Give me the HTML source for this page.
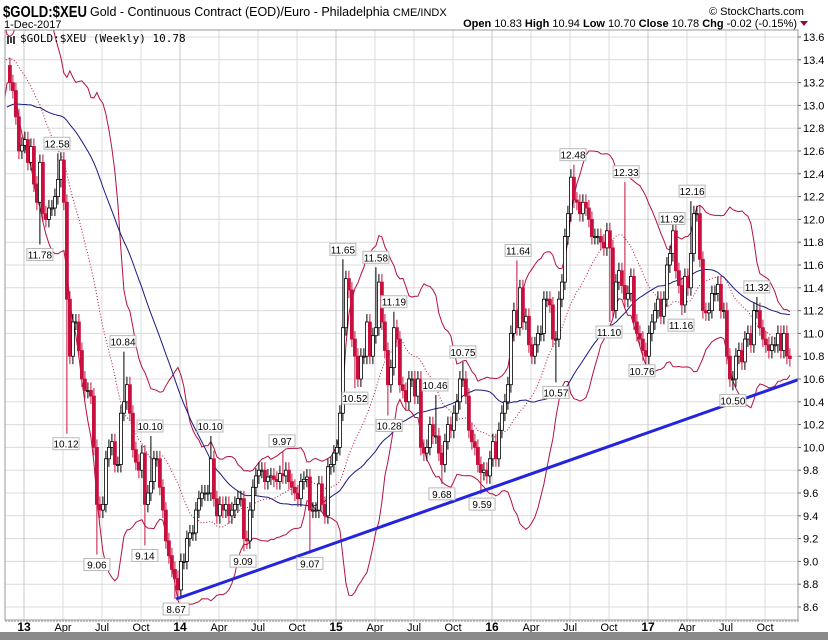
<!DOCTYPE html>
<html><head><meta charset="utf-8"><style>
html,body{margin:0;padding:0;background:#fff;}
svg{display:block;font-family:"Liberation Sans",sans-serif;}
</style></head><body>
<svg id="chart" width="828" height="640" viewBox="0 0 828 640" xmlns="http://www.w3.org/2000/svg">
<rect x="0" y="0" width="828" height="640" fill="#fff"/>
<text x="3" y="17" font-size="16" font-weight="bold" textLength="84" lengthAdjust="spacingAndGlyphs">$GOLD:$XEU</text>
<text x="90" y="16" font-size="12.5">Gold - Continuous Contract (EOD)/Euro - Philadelphia <tspan font-size="11">CME/INDX</tspan></text>
<text x="4" y="28" font-size="11">1-Dec-2017</text>
<text x="709" y="15" font-size="11">© StockCharts.com</text>
<text x="797" y="27" font-size="11" text-anchor="end"><tspan font-weight="bold">Open</tspan> 10.83 <tspan font-weight="bold">High</tspan> 10.94 <tspan font-weight="bold">Low</tspan> 10.70 <tspan font-weight="bold">Close</tspan> 10.78 <tspan font-weight="bold">Chg</tspan> -0.02 (-0.15%)</text>
<path d="M800 21 L808 21 L804 26 Z" fill="#8b1030"/>
<g id="grid"></g>
<g id="marks" clip-path="url(#clip)"></g>
<g id="labels"></g>
<rect x="5" y="30" width="793" height="590" fill="none" stroke="#999"/>
<text x="20" y="42" font-size="11" font-family="'DejaVu Sans Mono','Liberation Mono',monospace">$GOLD:$XEU (Weekly) 10.78</text>
<path d="M8 36 V44 M11 37 V43 M14 36 V44" stroke="#000" stroke-width="1.5"/>
<g id="axes"></g>
<rect x="0" y="632" width="828" height="8" fill="#8a8a8a"/>
<defs><clipPath id="clip"><rect x="5" y="30" width="793" height="590"/></clipPath></defs>
</svg>
<script>
// hidden warm-up weeks (2012) followed by visible weekly closes ending 1-Dec-2017
const preCloses = [12.55,12.6,12.7,12.65,12.8,12.75,12.6,12.7,12.85,12.7,12.6,12.75,12.8,12.7,12.65,12.6,12.7,12.8,12.75,12.7,12.6,12.7,12.75,12.8,12.7,12.65,12.7,12.8,12.75,12.7,
13.1,13.3,13.4,13.5,13.45,13.35,13.5,13.55,13.4,13.3,13.45,13.5,13.6,13.45,13.4,13.5,13.35,13.3,13.4,13.35];
const closes = [13.2,13.13,12.9,12.6,12.65,12.7,12.5,12.64,12.31,12.15,12.5,12.05,12.0,12.1,12.1,12.2,12.35,12.52,12.15,11.3,10.8,11.1,11.1,10.85,10.6,10.5,10.5,10.45,10.0,9.5,9.45,9.5,9.9,10.0,10.05,9.85,9.85,10.3,10.4,10.55,10.3,9.98,9.87,9.8,9.95,9.5,9.6,9.7,9.9,9.9,9.65,9.45,9.18,9.05,8.93,8.85,8.75,9.0,9.0,9.2,9.25,9.25,9.45,9.55,9.6,9.6,9.6,9.9,9.55,9.4,9.5,9.45,9.5,9.4,9.45,9.5,9.55,9.55,9.2,9.18,9.45,9.65,9.75,9.8,9.8,9.7,9.74,9.75,9.72,9.7,9.77,9.75,9.8,9.7,9.65,9.6,9.55,9.7,9.72,9.74,9.45,9.45,9.45,9.68,9.5,9.4,9.83,9.85,9.95,10.0,10.3,11.05,11.48,11.38,10.95,10.8,10.6,10.8,10.8,11.1,10.8,10.98,11.05,11.45,11.1,10.85,10.55,10.7,11.05,10.95,10.55,10.5,10.4,10.6,10.6,10.45,10.6,10.0,9.95,10.0,10.2,10.1,10.1,9.95,9.85,10.05,10.2,10.15,10.3,10.4,10.6,10.6,10.45,10.15,10.05,10.0,9.85,9.78,9.8,9.75,9.9,10.05,9.9,10.15,10.3,10.4,10.55,11.0,11.2,11.05,11.4,11.1,11.15,10.9,10.8,10.9,11.0,11.0,11.3,11.3,11.25,10.95,10.95,11.3,11.45,11.85,12.05,12.37,12.17,12.15,12.05,12.15,12.1,12.0,11.85,11.85,11.85,11.8,11.75,11.9,11.75,11.2,11.45,11.55,11.42,11.3,11.35,11.5,11.1,11.0,10.95,10.85,10.8,11.0,11.1,11.2,11.3,11.15,11.3,11.6,11.7,11.9,11.55,11.42,11.25,11.5,11.4,11.7,12.05,12.05,11.65,11.2,11.18,11.2,11.35,11.35,11.43,11.2,11.2,10.8,10.6,10.6,10.8,10.85,10.75,10.95,11.0,10.9,11.2,11.2,11.05,10.95,10.9,10.85,10.9,10.9,11.0,10.85,11.0,10.8,10.78];
const lastWeek = 255.3; // weeks since 1-Jan-2013 of the final candle
const priceTicks = [8.6,8.8,9.0,9.2,9.4,9.6,9.8,10.0,10.2,10.4,10.6,10.8,11.0,11.2,11.4,11.6,11.8,12.0,12.2,12.4,12.6,12.8,13.0,13.2,13.4,13.6];
const monthTickIdx = [0,3,6,9,12,15,18,21,24,27,30,33,36,39,42,45,48,51,54,57];
const monthTickText = ["13","Apr","Jul","Oct","14","Apr","Jul","Oct","15","Apr","Jul","Oct","16","Apr","Jul","Oct","17","Apr","Jul","Oct"];
const annWeeks = [11,5.3,14,33,42,62,24.3,40.3,50.7,73,86,95.3,106.3,117.3,123.3,110.3,121.7,137,146.3,139.3,152.7,164.7,177.3,183,200.7,195,206,216,222.7,219,244.3,236.3];
const annValues = [12.58,11.78,10.12,10.84,10.10,10.10,9.06,9.14,8.67,9.09,9.97,9.07,11.65,11.58,11.19,10.52,10.28,10.46,10.75,9.68,9.59,11.64,10.57,12.48,12.33,11.10,10.76,11.92,12.16,11.16,11.32,10.50];
const annDir = ["h","l","l","h","h","h","l","l","l","l","h","l","h","h","h","l","l","h","h","l","l","h","l","h","h","l","l","h","h","l","h","l"];
const trendWeeks = [50.7, 258.7];
const trendValues = [8.67, 10.6];

const NS="http://www.w3.org/2000/svg";
const X = w => 24 + w*3;
const Y = v => 37 + (13.6 - v)*114;
const M = m => 24 + m*13;
function mk(tag, attrs, parent){const e=document.createElementNS(NS,tag);for(const k in attrs)e.setAttribute(k,attrs[k]);parent.appendChild(e);return e;}
const grid=document.getElementById('grid'), marks=document.getElementById('marks'), labels=document.getElementById('labels'), axes=document.getElementById('axes');

priceTicks.forEach(v=>{
  const l=mk('line',{x1:5,x2:798,y1:Y(v),y2:Y(v),stroke:'#dcdcdc'},grid);
  
  
  const t=mk('text',{x:803,y:Y(v)+4,'font-size':11},axes);
  
  
  t.textContent=v.toFixed(1);
  mk('line',{x1:798,x2:801,y1:Y(v),y2:Y(v),stroke:'#666'},axes);
});
monthTickIdx.forEach((m,i)=>{
  const yr = m%12===0;
  const l=mk('line',{x1:M(m),x2:M(m),y1:30,y2:620,stroke:yr?'#c8c8c8':'#dcdcdc'},grid);
  
  
  const t=mk('text',{x:M(m),y:631,'font-size':yr?12:11,'font-weight':yr?'bold':'normal','text-anchor':'middle'},axes);
  
  
  t.textContent=monthTickText[i];
});
for(let w=-6; w<=258; w++){ mk('line',{x1:X(w),x2:X(w),y1:620,y2:622,stroke:'#888'},axes); }

const all = preCloses.concat(closes);
const n0 = preCloses.length, N = closes.length;
const weekOf = k => lastWeek - (all.length-1-k);
function sma(k,p){let s=0;for(let j=k-p+1;j<=k;j++)s+=all[j];return s/p;}
function sd(k,p){const m=sma(k,p);let s=0;for(let j=k-p+1;j<=k;j++)s+=(all[j]-m)**2;return Math.sqrt(s/p);}
let up=[],mid=[],lo=[],ma50=[];
for(let k=20;k<all.length;k++){
  const m=sma(k,20),d=sd(k,20);const x=X(weekOf(k));
  up.push(x+','+Y(m+2*d));mid.push(x+','+Y(m));lo.push(x+','+Y(m-2*d));
  if(k>=49) ma50.push(x+','+Y(sma(k,50)));
}
let p=mk('polyline',{points:up.join(' '),fill:'none',stroke:'#b3123f','stroke-width':1},marks);


p=mk('polyline',{points:lo.join(' '),fill:'none',stroke:'#b3123f','stroke-width':1},marks);


p=mk('polyline',{points:mid.join(' '),fill:'none',stroke:'#b3123f','stroke-width':1,'stroke-dasharray':'1,2'},marks);


p=mk('polyline',{points:ma50.join(' '),fill:'none',stroke:'#1a1a80','stroke-width':1},marks);



const highs=[],lows=[];
for(let i=0;i<N;i++){const o=i?closes[i-1]:13.35,c=closes[i];highs.push(Math.max(o,c)+0.07);lows.push(Math.min(o,c)-0.07);}
annWeeks.forEach((w,j)=>{
  const i=Math.round(w-(lastWeek-(N-1)));if(i<0||i>=N)return;
  if(annDir[j]==='h')highs[i]=Math.max(highs[i],annValues[j]);else lows[i]=Math.min(lows[i],annValues[j]);
});
for(let i=0;i<N;i++){
  const o=i?closes[i-1]:13.35,c=closes[i];const x=X(weekOf(n0+i));
  const down=c<o;const col=down?'#c8103f':'#000';
  const g=mk('g',{},marks);
  
  
  mk('line',{x1:x,x2:x,y1:Y(highs[i]),y2:Y(lows[i]),stroke:col,'stroke-width':1},g);
  const t=Y(Math.max(o,c)),b=Y(Math.min(o,c));
  mk('rect',{x:x-1.5,y:t,width:3,height:Math.max(1,b-t),fill:down?col:'#fff',stroke:col,'stroke-width':0.8},g);
}
p=mk('line',{x1:X(trendWeeks[0]),y1:Y(trendValues[0]),x2:X(trendWeeks[1]),y2:Y(trendValues[1]),stroke:'#2424e0','stroke-width':3},marks);



annWeeks.forEach((w,j)=>{
  const x=X(w),y=Y(annValues[j]),h=annDir[j]==='h';
  const g=mk('g',{},labels);
  
  
  const bx=x-13, by=h?y-16:y+4;
  mk('rect',{x:bx,y:by,width:26,height:12,fill:'#fff',stroke:'#b8b8b8'},g);
  const t=mk('text',{x:x,y:by+10,'font-size':10,'text-anchor':'middle'},g);
  t.textContent=annValues[j].toFixed(2);
});
</script>
</body></html>
